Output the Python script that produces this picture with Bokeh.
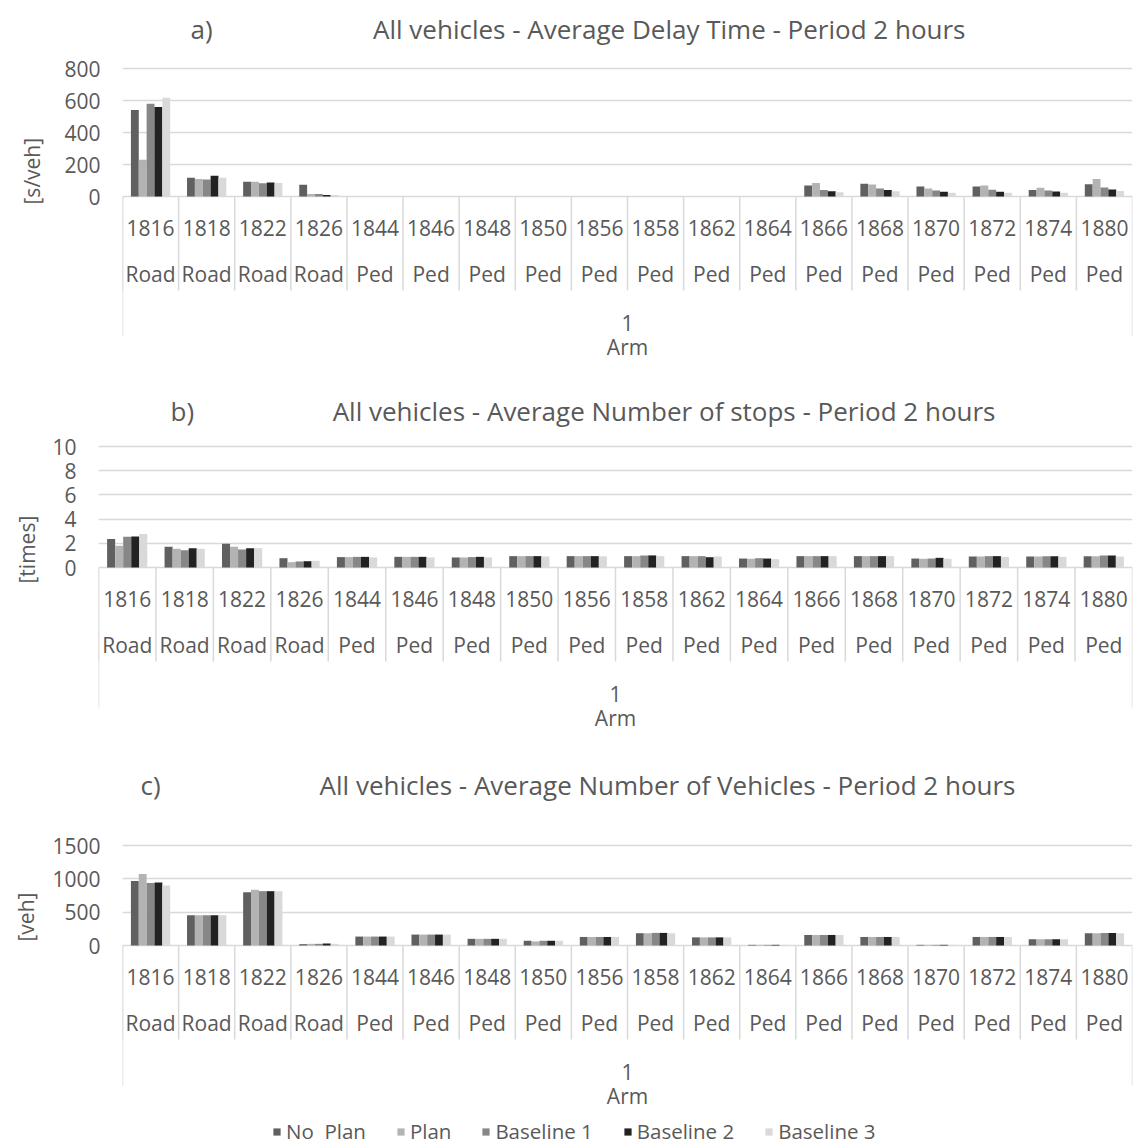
from bokeh.plotting import figure
from bokeh.models import (Range1d, FactorRange, FixedTicker, ColumnDataSource,
                          Title, Legend, LegendItem)
from bokeh.transform import dodge
from bokeh.layouts import column
from bokeh.core.properties import value
from bokeh.embed import file_html
from bokeh.resources import INLINE

# ---------------- data ----------------
arms = ["1816", "1818", "1822", "1826", "1844", "1846", "1848", "1850", "1856",
        "1858", "1862", "1864", "1866", "1868", "1870", "1872", "1874", "1880"]
arm_types = ["Road", "Road", "Road", "Road"] + ["Ped"] * 14
series_names = ["No  Plan", "Plan", "Baseline 1", "Baseline 2", "Baseline 3"]

delay_no_plan = [540, 117, 92, 73, 0, 0, 0, 0, 0, 0, 0, 0, 69, 79, 62, 62, 40, 77]
delay_plan = [229, 110, 92, 15, 0, 0, 0, 0, 0, 0, 0, 0, 85, 75, 50, 69, 54, 110]
delay_b1 = [579, 106, 83, 15, 0, 0, 0, 0, 0, 0, 0, 0, 40, 50, 37, 42, 37, 56]
delay_b2 = [560, 129, 87, 10, 0, 0, 0, 0, 0, 0, 0, 0, 33, 40, 29, 29, 31, 44]
delay_b3 = [617, 117, 85, 10, 0, 0, 0, 0, 0, 0, 0, 0, 27, 33, 23, 23, 23, 35]

stops_no_plan = [2.35, 1.71, 1.96, 0.77, 0.86, 0.88, 0.83, 0.94, 0.94, 0.94, 0.94, 0.74, 0.94, 0.94, 0.74, 0.91, 0.91, 0.94]
stops_plan = [1.79, 1.55, 1.71, 0.44, 0.86, 0.88, 0.83, 0.94, 0.94, 0.94, 0.94, 0.72, 0.94, 0.94, 0.72, 0.91, 0.91, 0.94]
stops_b1 = [2.54, 1.43, 1.49, 0.50, 0.88, 0.88, 0.86, 0.94, 0.94, 0.99, 0.94, 0.77, 0.94, 0.94, 0.74, 0.94, 0.94, 0.99]
stops_b2 = [2.57, 1.60, 1.60, 0.52, 0.88, 0.88, 0.88, 0.94, 0.94, 1.00, 0.85, 0.74, 0.94, 0.94, 0.80, 0.94, 0.94, 1.00]
stops_b3 = [2.76, 1.55, 1.60, 0.55, 0.83, 0.83, 0.83, 0.91, 0.92, 0.94, 0.91, 0.69, 0.94, 0.94, 0.72, 0.88, 0.88, 0.91]

veh_no_plan = [969, 452, 800, 20, 134, 164, 100, 71, 128, 184, 122, 10, 158, 128, 10, 128, 92, 184]
veh_plan = [1073, 452, 835, 25, 134, 164, 100, 61, 128, 184, 122, 10, 158, 128, 10, 128, 92, 184]
veh_b1 = [939, 452, 815, 25, 134, 164, 100, 71, 128, 189, 122, 10, 158, 128, 10, 128, 92, 189]
veh_b2 = [944, 452, 815, 30, 134, 164, 100, 71, 128, 189, 122, 10, 158, 128, 10, 128, 92, 189]
veh_b3 = [899, 452, 815, 25, 134, 164, 100, 71, 128, 184, 122, 10, 158, 128, 10, 128, 92, 184]

delay_ticks = [0, 200, 400, 600, 800]
stops_ticks = [0, 2, 4, 6, 8, 10]
veh_ticks = [0, 500, 1000, 1500]

# ---------------- style ----------------
FONT = "Open Sans"
TXT = "#595959"
GRID = "#d9d9d9"
COLORS = ["#606060", "#b3b3b3", "#878787", "#222222", "#d9d9d9"]
OFFSETS = [-0.28, -0.14, 0.0, 0.14, 0.28]
BAR_W = 0.14
CAT_FS = "21px"
TITLE_FS = "26px"
FIG_W = 1133
PLOT_RIGHT = 1132


def panel(vals, ticks, ylabel, ylab_standoff, ylab_offset, letter, letter_x, title, title_end,
          title_y, top, bottom, plot_left, P, A, legend=False):
    ymax = ticks[-1]
    scale = ymax / (A - P)
    n = len(arms)

    def sx(xpage):  # page pixel -> synthetic categorical coordinate
        return (xpage - plot_left) * n / (PLOT_RIGHT - plot_left)

    p = figure(width=FIG_W, height=bottom - top,
               x_range=FactorRange(*arms),
               y_range=Range1d(-(bottom - A) * scale, (A - top) * scale),
               output_backend="svg", toolbar_location=None, title=None,
               x_axis_location=None,
               min_border_left=plot_left, min_border_right=FIG_W - PLOT_RIGHT,
               min_border_top=0, min_border_bottom=0)
    if "frame_align" in p.properties():
        p.frame_align = False
    p.extra_y_ranges = {"pg": Range1d(bottom, top)}
    p.outline_line_color = None
    p.background_fill_color = "white"
    p.border_fill_color = "white"

    ax = p.yaxis[0]
    ax.ticker = FixedTicker(ticks=ticks)
    ax.axis_line_color = None
    ax.major_tick_line_color = None
    ax.major_tick_out = 0
    ax.major_tick_in = 0
    ax.minor_tick_line_color = None
    ax.major_label_standoff = 22
    ax.major_label_text_font = FONT
    ax.major_label_text_font_size = CAT_FS
    ax.major_label_text_color = TXT
    p.ygrid.ticker = FixedTicker(ticks=ticks)
    p.ygrid.grid_line_color = GRID
    p.ygrid.grid_line_width = 1.5
    p.xgrid.visible = False

    src = ColumnDataSource(dict(arm=arms, kind=arm_types,
                                s0=vals[0], s1=vals[1], s2=vals[2], s3=vals[3], s4=vals[4]))
    renderers = []
    for k in range(5):
        r = p.vbar(x=dodge("arm", OFFSETS[k], range=p.x_range), top="s%d" % k,
                   width=BAR_W, source=src, fill_color=COLORS[k], line_color=None)
        renderers.append(r)

    # category dividers
    p.segment(x0=dodge("arm", -0.5, range=p.x_range), x1=dodge("arm", -0.5, range=p.x_range),
              y0=A, y1=A + 94, source=src, y_range_name="pg", line_color=GRID, line_width=1.5)
    edge = ColumnDataSource(dict(arm=[arms[0]]))
    edge2 = ColumnDataSource(dict(arm=[arms[-1]]))
    p.segment(x0=dodge("arm", -0.5, range=p.x_range), x1=dodge("arm", -0.5, range=p.x_range),
              y0=A, y1=A + 140, source=edge, y_range_name="pg", line_color=GRID, line_width=1.5)
    p.segment(x0=dodge("arm", 0.5, range=p.x_range), x1=dodge("arm", 0.5, range=p.x_range),
              y0=A, y1=A + 140, source=edge2, y_range_name="pg", line_color=GRID, line_width=1.5)

    # category labels
    common = dict(text_font=value(FONT), text_color=TXT, text_align="center",
                  text_baseline="middle", y_range_name="pg")
    p.text(x="arm", y=A + 31, text="arm", source=src, text_font_size=CAT_FS, **common)
    p.text(x="arm", y=A + 77, text="kind", source=src, text_font_size=CAT_FS, **common)
    mid = n / 2
    p.text(x=[mid], y=[A + 126], text=["1"], text_font_size=CAT_FS, **common)
    p.text(x=[mid], y=[A + 150], text=["Arm"], text_font_size=CAT_FS, **common)

    # titles
    tcommon = dict(text_font=value(FONT), text_color=TXT,
                   text_baseline="middle", y_range_name="pg",
                   text_font_size=TITLE_FS)
    p.text(x=[sx(letter_x)], y=[title_y], text=[letter], text_align="left", **tcommon)
    p.text(x=[sx(title_end)], y=[title_y], text=[title], text_align="right", **tcommon)

    # y axis label (vertical title in the left border)
    p.add_layout(Title(text=ylabel, align="left", offset=ylab_offset,
                       standoff=ylab_standoff, text_font=FONT, text_font_size=CAT_FS,
                       text_font_style="normal", text_color=TXT), "left")

    if legend:
        items = [LegendItem(label=series_names[k], renderers=[renderers[k]]) for k in range(5)]
        lg = Legend(items=items, orientation="horizontal", location=(150, 0),
                    glyph_width=9, glyph_height=9, label_standoff=5, spacing=30,
                    padding=0, margin=0, border_line_color=None,
                    background_fill_alpha=0, label_text_font=FONT,
                    label_text_font_size="20.5px", label_text_color=TXT,
                    label_height=20)
        p.add_layout(lg)
    return p


pa = panel([delay_no_plan, delay_plan, delay_b1, delay_b2, delay_b3], delay_ticks,
           "[s/veh]", 31, 158, "a)", 190, "All vehicles - Average Delay Time - Period 2 hours", 965, 28,
           top=0, bottom=362, plot_left=122, P=68, A=196)
pb = panel([stops_no_plan, stops_plan, stops_b1, stops_b2, stops_b3], stops_ticks,
           "[times]", 17, 152, "b)", 170, "All vehicles - Average Number of stops - Period 2 hours", 995, 410,
           top=362, bottom=735, plot_left=98, P=446, A=567)
pc = panel([veh_no_plan, veh_plan, veh_b1, veh_b2, veh_b3], veh_ticks,
           "[veh]", 19, 204, "c)", 140, "All vehicles - Average Number of Vehicles - Period 2 hours", 1015, 784,
           top=735, bottom=1145, plot_left=122, P=845, A=945, legend=True)

layout = column(pa, pb, pc, spacing=0)
open("out.html", "w").write(file_html(layout, INLINE))
